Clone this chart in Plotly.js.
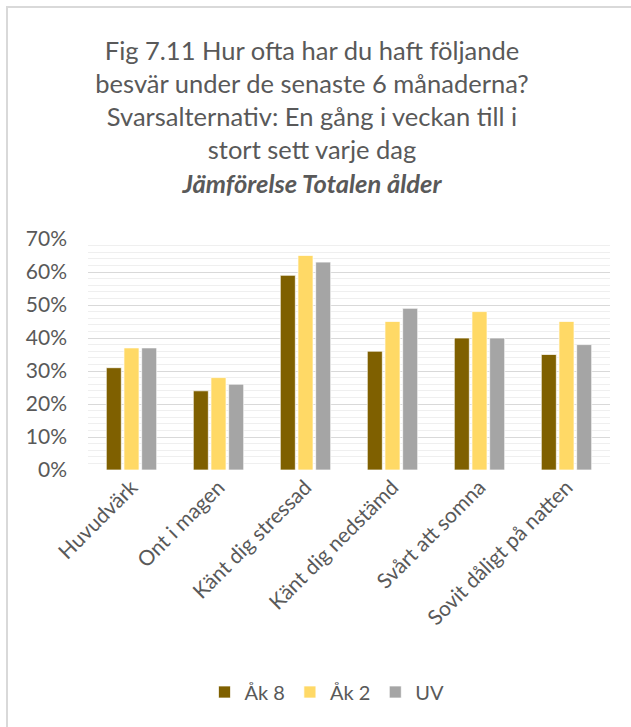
<!DOCTYPE html>
<html><head><meta charset="utf-8">
<script src="https://cdn.plot.ly/plotly-3.0.1.min.js"></script>
<style>
html,body{margin:0;padding:0;background:#fff;}
#frame{position:absolute;left:6px;top:6px;width:640px;height:740px;border-left:2px solid #d9d9d9;border-top:2px solid #d9d9d9;}
#chart{position:absolute;left:0;top:0;width:631px;height:727px;}
</style></head>
<body>
<div id="frame"></div>
<div id="chart"></div>
<script>
const categories = ["Huvudvärk","Ont i magen","Känt dig stressad","Känt dig nedstämd","Svårt att somna","Sovit dåligt på natten"];
const seriesNames = ["Åk 8","Åk 2","UV"];
const ak8 = [0.31,0.24,0.59,0.36,0.40,0.35];
const ak2 = [0.37,0.28,0.65,0.45,0.48,0.45];
const uv  = [0.37,0.26,0.63,0.49,0.40,0.38];
const colors = ["#7f6000","#ffd966","#a5a5a5"];
const yTicks = [0,0.1,0.2,0.3,0.4,0.5,0.6,0.7];
const yTickLabels = ["0%","10%","20%","30%","40%","50%","60%","70%"];

const font = "Lato, 'Liberation Sans', sans-serif";
const txt = "#595959";
const data = [ak8, ak2, uv].map((vals,i)=>({
  type:"bar", name: seriesNames[i], x: categories, y: vals,
  marker:{color: colors[i], line:{color:"rgba(255,255,255,0.7)", width:1}},
  hoverinfo:"none"
}));

const layout = {
  width:631, height:727,
  paper_bgcolor:"rgba(0,0,0,0)", plot_bgcolor:"rgba(0,0,0,0)",
  margin:{l:88, r:21, t:239, b:257},
  font:{family:font, color:txt},
  title:{
    text:"Fig 7.11 Hur ofta har du haft följande<br>besvär under de senaste 6 månaderna?<br>Svarsalternativ: En gång i veckan till i<br>stort sett varje dag<br><b><i>Jämförelse Totalen ålder</i></b>",
    font:{family:font, size:25.5, color:txt},
    x:312/631, xanchor:"center", xref:"container",
    y:1-60/727, yanchor:"top", yref:"container"
  },
  barmode:"group", bargap:0.39, bargroupgap:0.15,
  xaxis:{tickangle:-45, tickfont:{size:21, color:txt}, showline:false, showgrid:false, ticks:"", automargin:false, ticklabelstandoff:0},
  yaxis:{range:[0,0.7], tickvals:yTicks, ticktext:yTickLabels, tickfont:{size:21,color:txt},
    showgrid:true, gridcolor:"#d9d9d9", gridwidth:1, zeroline:false, showline:false, ticks:"",
    ticklen:0, automargin:false, ticklabelstandoff:20,
    minor:{dtick:0.02, showgrid:true, gridcolor:"#efefef", gridwidth:1}},
  showlegend:true,
  legend:{orientation:"h", x:327/631, xref:"container", xanchor:"center", y:1-692/727, yref:"container", yanchor:"middle",
    font:{size:20, color:txt}, itemwidth:30, traceorder:"normal"}
};
Plotly.newPlot("chart", data, layout, {staticPlot:true});
</script>
</body></html>
